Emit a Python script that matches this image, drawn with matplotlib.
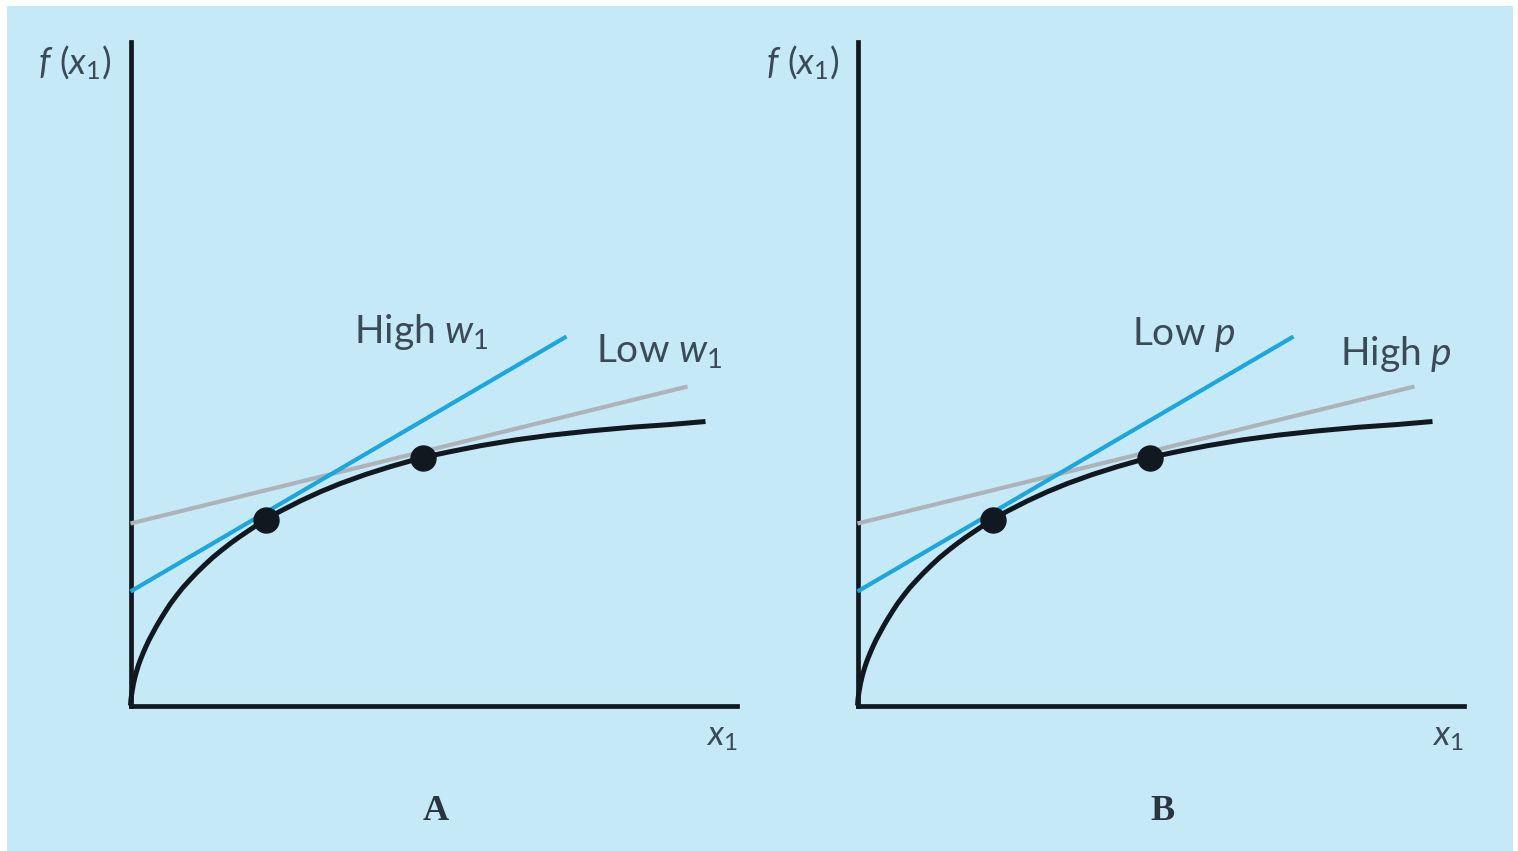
import matplotlib
matplotlib.use('Agg')
import matplotlib.pyplot as plt
from matplotlib.patches import Rectangle


# production function f(x1) (same curve in both panels)
x1 = [0, 0.5, 1.5, 3, 4.5, 6, 8, 10, 12.5, 15, 18.5, 22, 26, 30, 35, 40, 46, 52,
      59, 66, 74, 82, 91, 100, 108, 117, 126, 135, 150, 170, 190, 210, 235, 260,
      292, 320, 350, 385, 420, 460, 500, 540, 575]
fx1 = [0, 6.5, 13.5, 22, 28.5, 34, 40.5, 46, 52.2, 58, 65.5, 72, 79.4, 86.2, 94.2,
       101.9, 109.9, 117.5, 125.2, 132.6, 140.4, 147.8, 155.2, 162.2, 168, 174.1,
       180.1, 186, 194.4, 204.6, 213.8, 222, 231, 238.9, 248, 253.9, 259.8, 265.6,
       270.3, 274.6, 278.2, 281, 284]

# optimal points (where the isoprofit lines touch the curve)
opt_x = [135, 292]
opt_y = [186, 248]

# isoprofit lines, end points
steep_x = [0, 436]
steep_y = [114, 369]
flat_x = [0, 557]
flat_y = [182, 319]

panel_names = ['A', 'B']
steep_labels = [r'High $w_1$', r'Low $p$']
flat_labels = [r'Low $w_1$', r'High $p$']

BG = '#c6e9f8'
INK = '#111820'
TXT = '#3b4a57'
BLUE = '#1ba6dd'
GREY = '#adb3b8'

plt.rcParams['font.family'] = ['Lato', 'DejaVu Sans']
plt.rcParams['mathtext.fontset'] = 'custom'
plt.rcParams['mathtext.rm'] = 'Lato'
plt.rcParams['mathtext.it'] = 'Lato:italic'
plt.rcParams['mathtext.bf'] = 'Lato:bold'

W, H = 1518, 851
fig = plt.figure(figsize=(W / 100, H / 100), dpi=100, facecolor='white')
fig.patches.append(Rectangle((7 / W, 0), 1506 / W, 845 / H, transform=fig.transFigure,
                             facecolor=BG, edgecolor='none', zorder=-10))

lefts = [130.5, 857.5]
steep_pos = [(224, 362), (275, 360)]
flat_pos = [(466, 344), (482, 340)]

for i, name in enumerate(panel_names):

    ax = fig.add_axes([lefts[i] / W, 145.5 / H, 606 / W, 664 / H])
    ax.set_xlim(0, 606)
    ax.set_ylim(0, 664)
    ax.patch.set_alpha(0)

    for side in ['top', 'right']:
        ax.spines[side].set_visible(False)
    for side in ['left', 'bottom']:
        ax.spines[side].set_linewidth(3.4)
        ax.spines[side].set_color(INK)
    ax.set_xticks([])
    ax.set_yticks([])

    ax.plot(x1, fx1, color=INK, lw=3.6, solid_capstyle='butt', solid_joinstyle='round',
            clip_on=False, zorder=2)
    ax.plot(flat_x, flat_y, color=GREY, lw=3.0, solid_capstyle='butt', clip_on=False, zorder=3)
    ax.plot(steep_x, steep_y, color=BLUE, lw=3.0, solid_capstyle='butt', clip_on=False, zorder=4)
    ax.plot(opt_x, opt_y, 'o', color=INK, ms=18, clip_on=False, zorder=5)

    ax.text(*steep_pos[i], steep_labels[i], fontsize=28, color=TXT, ha='left', va='baseline')
    ax.text(*flat_pos[i], flat_labels[i], fontsize=28, color=TXT, ha='left', va='baseline')

    ax.text(-92, 631, r'$f\ (x_1)$', fontsize=26, color=TXT, ha='left', va='baseline', clip_on=False)
    ax.text(575, -40, r'$x_1$', fontsize=25, color=TXT, ha='left', va='baseline', clip_on=False)
    ax.text(305, -114, name, fontsize=26, color='#2a3540', ha='center', va='baseline',
            fontweight='bold', family=['Liberation Serif', 'DejaVu Serif'], clip_on=False)

fig.savefig('out.png', dpi=100, facecolor='white')
plt.close(fig)
